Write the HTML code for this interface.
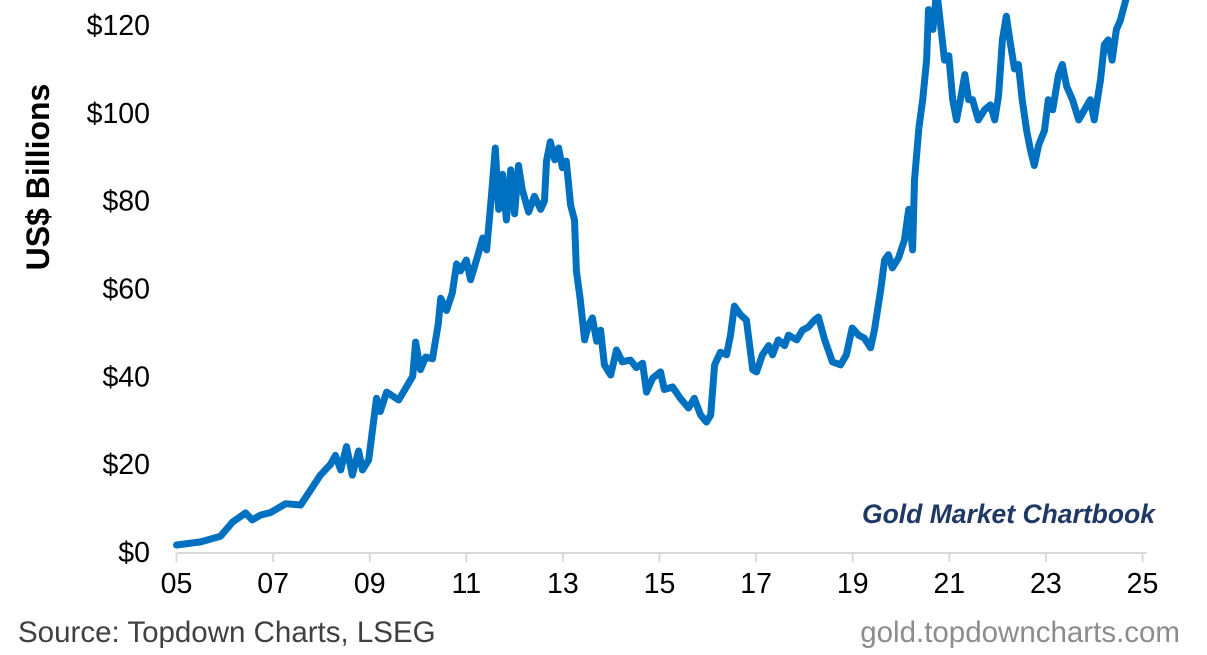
<!DOCTYPE html>
<html><head><meta charset="utf-8"><style>
html,body{margin:0;padding:0;background:#fff;}
body{width:1207px;height:650px;overflow:hidden;font-family:"Liberation Sans",Arial,sans-serif;}
</style></head><body>
<svg id="chart" width="1207" height="650" viewBox="0 0 1207 650" xmlns="http://www.w3.org/2000/svg" font-family="Liberation Sans, Arial, sans-serif">
<g id="yaxis"></g>
<g id="xaxis"></g>
<g id="series"></g>
<text transform="translate(49,177) rotate(-90)" text-anchor="middle" font-size="32" font-weight="bold" fill="#000">US$ Billions</text>
<text x="1155" y="523" text-anchor="end" font-size="26.5" font-weight="bold" font-style="italic" fill="#1F3864">Gold Market Chartbook</text>
<text x="18" y="642" font-size="29.5" fill="#404040">Source: Topdown Charts, LSEG</text>
<text x="1180" y="642" text-anchor="end" font-size="29.5" fill="#8c8c8c">gold.topdowncharts.com</text>
</svg>
<script>
const years = [2005.00,2005.50,2005.91,2006.16,2006.43,2006.57,2006.74,2006.95,2007.26,2007.57,2007.77,2007.98,2008.19,2008.29,2008.40,2008.52,2008.64,2008.77,2008.85,2008.98,2009.06,2009.14,2009.22,2009.35,2009.60,2009.89,2009.95,2010.05,2010.16,2010.30,2010.42,2010.47,2010.59,2010.71,2010.80,2010.88,2011.00,2011.09,2011.25,2011.34,2011.42,2011.52,2011.60,2011.67,2011.75,2011.83,2011.92,2012.00,2012.08,2012.16,2012.29,2012.41,2012.54,2012.62,2012.66,2012.74,2012.83,2012.91,2012.99,2013.07,2013.16,2013.24,2013.28,2013.36,2013.45,2013.53,2013.61,2013.70,2013.78,2013.86,2013.99,2014.11,2014.23,2014.40,2014.52,2014.65,2014.73,2014.86,2015.02,2015.10,2015.27,2015.43,2015.60,2015.72,2015.85,2015.97,2016.06,2016.14,2016.26,2016.39,2016.47,2016.55,2016.68,2016.80,2016.93,2017.01,2017.13,2017.26,2017.34,2017.46,2017.59,2017.67,2017.84,2017.96,2018.08,2018.21,2018.29,2018.42,2018.58,2018.75,2018.87,2018.99,2019.12,2019.24,2019.37,2019.45,2019.58,2019.66,2019.74,2019.82,2019.95,2020.07,2020.16,2020.24,2020.28,2020.37,2020.45,2020.53,2020.57,2020.66,2020.74,2020.82,2020.90,2020.99,2021.07,2021.15,2021.23,2021.32,2021.40,2021.48,2021.60,2021.73,2021.85,2021.94,2022.02,2022.10,2022.18,2022.27,2022.35,2022.43,2022.51,2022.60,2022.68,2022.76,2022.85,2022.97,2023.05,2023.14,2023.26,2023.34,2023.43,2023.55,2023.68,2023.80,2023.92,2024.00,2024.13,2024.21,2024.29,2024.37,2024.46,2024.54,2024.66];
const values = [1.6,2.3,3.6,6.8,8.9,7.3,8.4,9,11,10.7,14,17.5,20,22,18.7,24,17.5,23,18.7,21,28,35,32,36.4,34.6,40,47.8,41.5,44.4,44,52,57.8,55,59,65.6,64,66.5,62,68,71.5,68.8,81,92,78,86,75.6,87,77,88,82.5,77.4,81,78,80,89,93.4,89.3,92,87.5,89,79,75.6,64,57.4,48.3,51.7,53.3,48,50.5,42.6,40.3,46,43.3,43.7,42,43,36.4,39.6,41,37,37.6,35,32.8,35,31.2,29.6,31.2,42.6,45.5,44.9,49.4,56,54,52.8,41.5,41,44.9,47,44.9,48.3,47,49.4,48.3,50.5,51.2,52.8,53.5,48.3,43.3,42.6,44.9,51,49.4,48.7,46.5,50.5,59.7,66.5,67.7,64.7,67,71,78,68.8,84.7,96.6,103,112,123.5,119,128,120,112,113,103,98.4,103,108.7,103,103,98.4,100.7,101.8,98.4,104,116.6,122,115.5,110,111,103,96,91.6,88,92.7,96,103,100.7,108.7,111,106,103,98.4,100.7,103,98.4,107.5,115.5,116.6,112,119,121,126];
const yTicks = [0,20,40,60,80,100,120];
const xTickYears = [2005,2007,2009,2011,2013,2015,2017,2019,2021,2023,2025];
const xTickLabels = ["05","07","09","11","13","15","17","19","21","23","25"];

const NS = "http://www.w3.org/2000/svg";
const x0 = 176.5, x1 = 1142.5, y0 = 552, y1 = 25;
const xs = y => x0 + (y - 2005) / 20 * (x1 - x0);
const ys = v => y0 - v / 120 * (y0 - y1);
function mk(tag, attrs, parent){const e=document.createElementNS(NS,tag);for(const k in attrs)e.setAttribute(k,attrs[k]);parent.appendChild(e);return e;}

const ya = document.getElementById('yaxis');
yTicks.forEach(t=>{
  const tx = mk('text',{x:150,y:ys(t)+10,'text-anchor':'end','font-size':28.5,fill:'#000'},ya);
  tx.textContent = '$'+t;
  
  
});
const xa = document.getElementById('xaxis');
const axl = mk('line',{x1:x0,x2:x1+4,y1:553,y2:553,stroke:'#d9d9d9','stroke-width':2},xa);


xTickYears.forEach((yr,i)=>{
  const tk = mk('line',{x1:xs(yr),x2:xs(yr),y1:553,y2:562,stroke:'#d9d9d9','stroke-width':2},xa);
  
  
  const tx = mk('text',{x:xs(yr),y:593,'text-anchor':'middle','font-size':28.5,fill:'#000'},xa);
  tx.textContent = xTickLabels[i];
  
  
});
const sg = document.getElementById('series');
const d = years.map((yr,i)=>(i?'L':'M')+xs(yr).toFixed(1)+','+ys(values[i]).toFixed(1)).join(' ');
const p = mk('path',{d:d,fill:'none',stroke:'#0070C0','stroke-width':7,'stroke-linejoin':'round','stroke-linecap':'round'},sg);


</script>
</body></html>
